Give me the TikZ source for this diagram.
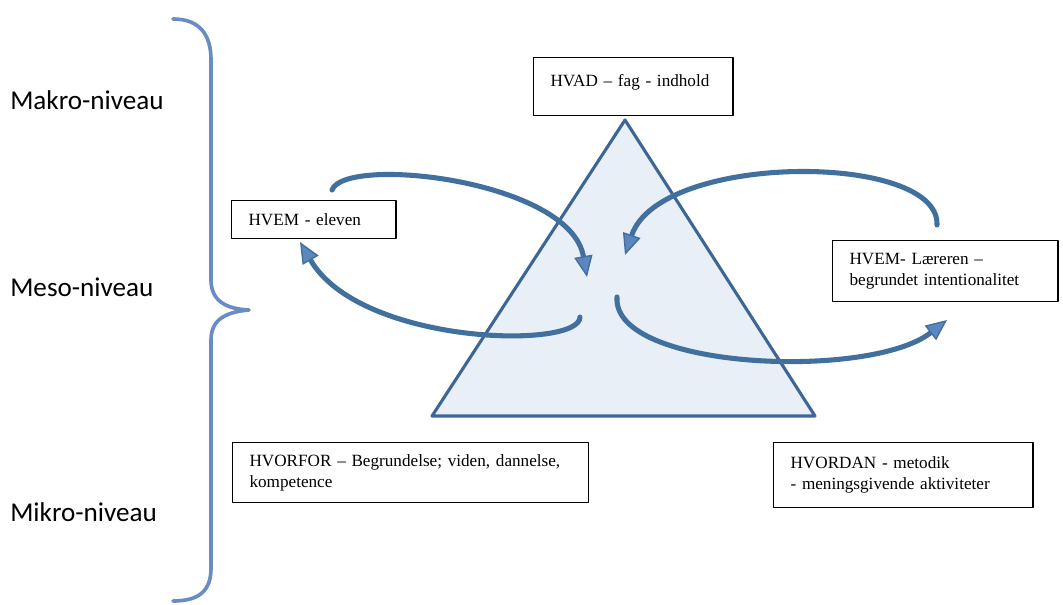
\documentclass[tikz,border=0pt]{standalone}
\usepackage{fontspec}
\setmainfont{Liberation Serif}
\newfontfamily\labelfont{Carlito}
\usetikzlibrary{arrows.meta}
\definecolor{trekant}{HTML}{3D6596}
\definecolor{trekantfyld}{HTML}{E9EFF7}
\definecolor{pil}{HTML}{41709F}
\definecolor{pilfyld}{HTML}{5A87BF}
\definecolor{klamme}{HTML}{6A8CC4}
\begin{document}
\begin{tikzpicture}[line join=round, line cap=round, x=0.025cm, y=-0.025cm]
            \tikzset{niveau/.style={font=\labelfont\fontsize{19.3}{22}\selectfont, anchor=west, inner sep=0pt},
                     boks/.style={draw, line width=1pt, anchor=north west, align=left, inner xsep=12pt,
                                  font=\fontsize{12.2}{14.9}\selectfont},
                     kredspil/.style={draw=pil, line width=3.6pt,
                                  -{Triangle[length=15pt, width=13pt, fill=pilfyld, line width=1pt]}}}
            \useasboundingbox (0,0) rectangle (1063,604);
            \draw[klamme, line width=2.6pt] (173,19) .. controls (200,19) and (211,35) .. (211,60) -- (211,280)
                .. controls (211,300) and (225,309) .. (249,310) .. controls (225,312) and (211,320) .. (211,340)
                -- (211,568) .. controls (211,590) and (200,601) .. (173,601);
            \node[niveau] (makro) at (10,100) {Makro-niveau};
            \node[niveau] (meso) at (10,287) {Meso-niveau};
            \node[niveau] (mikro) at (10,512) {Mikro-niveau};
            \draw[draw=trekant, fill=trekantfyld, line width=2.2pt] (625,120) -- (815,416) -- (432,416) -- cycle;
            \node[boks, text width=117.7pt, minimum height=41.1pt, inner ysep=4pt, text height=16.5pt, text depth=16.6pt]
                (hvad) at (533,57) {HVAD -- fag - indhold};
            \node[boks, text width=92.9pt, minimum height=26.9pt] (elev) at (231,200) {HVEM - eleven};
            \node[boks, text width=136.2pt, minimum height=43.2pt] (laerer) at (832,240)
                {HVEM- Læreren --\\begrundet intentionalitet};
            \node[boks, text width=229pt, minimum height=42.5pt] (hvorfor) at (232,442)
                {HVORFOR -- Begrundelse; viden, dannelse,\\kompetence};
            \node[boks, text width=160.3pt, minimum height=46.1pt] (hvordan) at (773,442)
                {HVORDAN - metodik\\- meningsgivende aktiviteter};
            \coordinate (a1) at (332,190);
            \coordinate (a2) at (587,277);
            \coordinate (b1) at (580,317);
            \coordinate (b2) at (300,242);
            \coordinate (c1) at (937,225);
            \coordinate (c2) at (625,255);
            \coordinate (d1) at (617,297);
            \coordinate (d2) at (947,320);
            \draw[kredspil] (a1) .. controls (345,155) and (570,180) .. (a2);
            \draw[kredspil] (b1) .. controls (580,350) and (360,345) .. (b2);
            \draw[kredspil] (c1) .. controls (940,152) and (660,152) .. (c2);
            \draw[kredspil] (d1) .. controls (612,370) and (870,380) .. (d2);
        \end{tikzpicture}
\end{document}
